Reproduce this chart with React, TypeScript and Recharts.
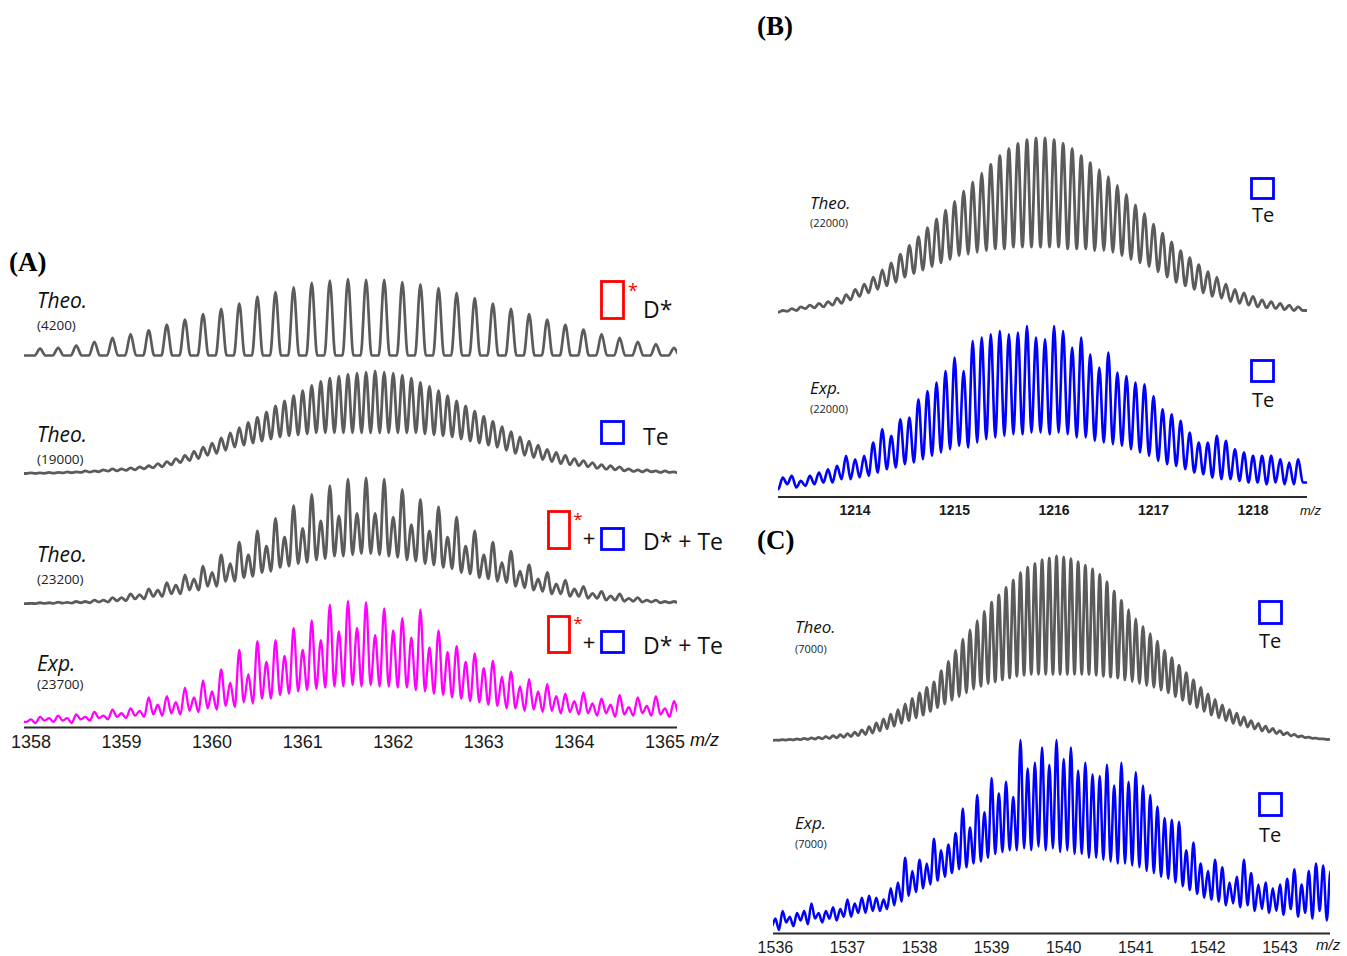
import React from 'react';
import { LineChart, Line, XAxis, YAxis } from 'recharts';

// ---------------- Panel A (m/z 1358 – 1365) ----------------
const aTicks = [1358, 1359, 1360, 1361, 1362, 1363, 1364, 1365];
const aDomain: [number, number] = [1357.923, 1365.133];

// A1: Theo. (4200) D*, isotope spacing 0.2
const a1Start = 1358.1;
const a1Step = 0.2;
const a1Peaks = [9, 10, 13, 18, 23, 28, 33, 40, 47, 54, 61, 68, 77, 83, 89, 95, 98, 100, 99, 99, 96, 93, 88, 82, 75, 68, 61, 54, 47, 40, 34, 28, 23, 18, 15, 10];
const a1Valleys = [0, 0, 0, 0, 0, 0, 0, 0, 0, 0, 0, 0, 0, 0, 0, 0, 0, 0, 0, 0, 0, 0, 0, 0, 0, 0, 0, 0, 0, 0, 0, 0, 0, 0, 0, 0, 0];

// A2: Theo. (19000) Te, spacing 0.1
const a2Start = 1358.0;
const a2Step = 0.1;
const a2Peaks = [1, 1, 1.5, 1.5, 2, 2, 3, 3, 4, 5, 5, 6, 7, 8, 10, 12, 15, 18, 22, 26, 30, 35, 40, 45, 50, 55, 60, 66, 71, 76, 81, 86, 90, 93, 95, 97, 98, 99, 100, 99, 98, 96, 93, 89, 85, 81, 76, 71, 66, 61, 56, 51, 46, 41, 36, 32, 28, 24, 21, 18, 15, 13, 11, 9, 8, 7, 5, 4, 4, 3, 3, 2];
const a2Valleys = [0.5, 0.5, 0.7, 0.8, 1, 1.2, 1.5, 1.8, 2.2, 2.7, 3, 3.5, 4, 5, 6, 7, 9, 11, 13, 15, 18, 20, 23, 26, 28, 30, 32, 34, 36, 37, 38, 39, 40, 40, 40, 40, 40, 40, 40, 40, 40, 40, 40, 40, 39, 38, 37, 36, 34, 32, 30, 28, 26, 23, 20, 18, 16, 14, 12, 10, 9, 8, 7, 5.5, 4.5, 4, 3, 2.5, 2, 2, 1.5, 1.5, 1];

// A3: Theo. (23200) D* + Te, spacing 0.1
const a3Start = 1358.0;
const a3Step = 0.1;
const a3Peaks = [0.5, 1, 1, 1.5, 1.3, 2, 2, 3, 3, 5, 5, 8, 7.5, 12, 11, 17, 15, 23, 20, 30, 25, 39, 32, 49, 39, 58, 46, 68, 53, 78, 60, 87, 66, 94, 70, 99, 72, 100, 72, 99, 69, 91, 63, 83, 58, 77, 53, 69, 46, 58, 39, 49, 33, 42, 26, 31, 20, 25, 16, 19, 12, 14, 8.5, 10, 6.5, 8, 4.5, 5, 3, 3, 2, 2];
const a3Valleys = [0.3, 0.3, 0.5, 0.5, 0.7, 0.7, 1, 1, 1.5, 1.6, 2.5, 2.7, 4, 4, 6, 6, 8, 8, 11, 11, 14, 14, 18, 18, 21, 22, 25, 26, 29, 30, 32, 33, 35, 36, 38, 38, 39, 40, 40, 39, 38, 37, 35, 34, 32, 31, 29, 28, 25, 24, 21, 20, 18, 17, 14, 13, 11, 10, 8, 8, 6, 6, 4.5, 4.5, 3, 3, 2.2, 2.2, 1.5, 1.5, 1, 1, 1];

// A4: Exp. (23700), spacing 0.1
const a4Start = 1358.0;
const a4Step = 0.1;
const a4Peaks = [3, 5, 4, 6, 4, 7, 5, 9, 6, 11, 8, 12, 10, 21, 15, 22, 17, 29, 21, 35, 26, 44, 33, 60, 40, 67, 50, 68, 55, 78, 60, 84, 68, 97, 75, 100, 78, 99, 72, 94, 76, 86, 70, 93, 62, 76, 58, 63, 50, 57, 45, 51, 38, 42, 30, 36, 26, 32, 22, 24, 18, 25, 16, 20, 15, 23, 13, 21, 14, 22, 12, 18];
const a4Valleys = [1, 0, 2, 1, 2, 0, 3, 2, 4, 3, 5, 4, 6, 5, 7, 6, 8, 7, 10, 9, 12, 11, 14, 13, 17, 16, 20, 20, 23, 24, 26, 27, 28, 29, 30, 30, 31, 30, 31, 30, 30, 29, 29, 27, 26, 24, 23, 21, 20, 18, 17, 15, 14, 12, 12, 10, 11, 9, 10, 8, 9, 7, 8, 6, 8, 5, 7, 6, 8, 6, 7, 5, 8];

// ---------------- Panel B (m/z 1213.2 – 1218.5) ----------------
const bTicks = [1214, 1215, 1216, 1217, 1218];
const bDomain: [number, number] = [1213.226, 1218.543];

const b1Start = 1213.274;
const b1Step = 0.0909;
const b1Peaks = [2, 3, 4, 5, 6, 7, 9, 11, 14, 17, 21, 25, 29, 34, 39, 44, 49, 54, 59, 64, 70, 75, 80, 85, 90, 94, 97, 99, 100, 100, 99, 97, 94, 90, 86, 82, 78, 73, 68, 62, 57, 51, 46, 41, 36, 32, 28, 24, 21, 17, 14, 12, 10, 8, 7, 6, 5, 4];
const b1Valleys = [1, 1.5, 2, 3, 3.5, 4, 5, 6, 8, 10, 12, 14, 16, 18, 21, 23, 25, 27, 29, 31, 33, 34, 35, 36, 37, 37, 38, 38, 38, 38, 38, 38, 37, 37, 37, 36, 36, 35, 33, 31, 29, 27, 24, 21, 18, 16, 14, 12, 10, 9, 7, 6, 5, 4, 3.5, 3, 2.5, 2, 2];

const b2Start = 1213.183;
const b2Step = 0.0909;
const b2Peaks = [4, 9, 10, 7, 10, 12, 14, 16, 22, 20, 22, 30, 38, 34, 44, 45, 56, 61, 66, 73, 81, 73, 91, 93, 95, 97, 95, 96, 100, 93, 92, 100, 97, 87, 93, 83, 75, 84, 72, 70, 66, 65, 58, 50, 47, 43, 36, 30, 30, 34, 31, 26, 24, 22, 22, 22, 20, 18, 20];
const b2Valleys = [0, 2, 5, 3, 4, 5, 6, 6, 8, 8, 9, 10, 12, 14, 15, 17, 18, 20, 22, 24, 26, 28, 27, 30, 32, 33, 34, 35, 35, 36, 36, 35, 36, 35, 33, 33, 31, 30, 29, 28, 26, 24, 22, 19, 17, 16, 14, 12, 11, 9, 8, 8, 7, 6, 6, 5, 6, 5, 5, 6];

// ---------------- Panel C (m/z 1536 – 1543.7) ----------------
const cTicks = [1536, 1537, 1538, 1539, 1540, 1541, 1542, 1543];
const cDomain: [number, number] = [1535.967, 1543.694];

const c1Start = 1536.0;
const c1Step = 0.1;
const c1Peaks = [0.5, 0.7, 0.9, 1.1, 1.4, 1.7, 2, 2.4, 2.9, 3.4, 4, 4.8, 6, 7.7, 9.8, 12, 14.5, 17, 20, 23, 26, 29, 32, 38, 43, 49, 55, 60, 65, 70, 75, 79, 83, 87, 91, 94, 96, 98, 99, 100, 99.5, 98.5, 97, 95, 93, 90, 86, 81, 76, 71, 66, 62, 58, 54, 49, 45, 41, 37, 33, 29, 25.5, 22.5, 19.5, 17, 15, 13, 11, 9.5, 8, 6.8, 5.6, 4.5, 3.6, 2.8, 2.1, 1.6, 1.2, 0.9];
const c1Valleys = [0.3, 0.4, 0.5, 0.6, 0.7, 0.9, 1, 1.2, 1.4, 1.7, 2, 2.4, 2.9, 3.5, 4.3, 5.4, 6.6, 8, 9.5, 11, 12.5, 14, 16, 18, 20, 22, 24, 26, 28, 29.5, 31, 32, 33, 34, 35, 35.5, 36, 36, 36, 36, 36, 36, 36, 36, 36, 35.5, 35, 34.5, 34, 33, 32, 31, 30, 29, 27.5, 26, 24, 22, 20, 18, 16, 14, 12.5, 11, 9.5, 8.5, 7.5, 6.5, 5.5, 4.8, 4, 3.4, 2.8, 2.2, 1.8, 1.4, 1.1, 0.8, 0.6];

const c2Start = 1536.0;
const c2Step = 0.1;
const c2Peaks = [6, 10, 7, 9, 10, 14, 9, 10, 12, 11, 16, 14, 17, 18, 17, 16, 22, 25, 38, 31, 37, 35, 48, 42, 45, 51, 64, 54, 71, 62, 80, 72, 78, 70, 100, 85, 88, 96, 87, 100, 90, 96, 84, 88, 82, 81, 87, 76, 88, 78, 83, 76, 71, 65, 59, 58, 57, 42, 46, 35, 31, 37, 33, 25, 28, 37, 30, 24, 25, 22, 24, 27, 32, 24, 31, 35, 34, 31];
const c2Valleys = [2, 0, 4, 2, 5, 3, 6, 4, 6, 5, 7, 7, 9, 9, 10, 10, 11, 13, 15, 18, 20, 22, 24, 26, 28, 30, 32, 33, 35, 36, 38, 40, 41, 42, 42, 43, 42, 44, 42, 43, 41, 42, 40, 40, 38, 38, 37, 36, 35, 35, 34, 33, 31, 30, 28, 27, 25, 23, 21, 19, 17, 16, 15, 13, 14, 12, 13, 10, 11, 9, 10, 8, 11, 7, 9, 6, 10, 5, 12];

// ---------------- helpers ----------------
type Pt = { x: number; y: number };

function buildPoints(start: number, step: number, peaks: number[], valleys: number[], shoulder = 0): Pt[] {
  const pts: Pt[] = [{ x: start - step, y: valleys[0] }];
  peaks.forEach((h, i) => {
    const c = start + i * step;
    pts.push({ x: c - step / 2, y: valleys[i] });
    if (shoulder) pts.push({ x: c - shoulder, y: valleys[i] });
    pts.push({ x: c, y: h });
    if (shoulder) pts.push({ x: c + shoulder, y: valleys[i + 1] });
  });
  const n = peaks.length;
  pts.push({ x: start + (n - 0.5) * step, y: valleys[n] });
  pts.push({ x: start + n * step, y: valleys[n] });
  return pts;
}

type Box = { x0: number; x1: number; y100: number; y0: number; axisY?: number };

const SIDE = 30;
const PAD = 4;
const GRAY = '#5b5b5b';
const BLUE = '#0000ff';
const MAGENTA = '#ff00ff';

function Trace(props: {
  pts: Pt[];
  domain: [number, number];
  box: Box;
  color: string;
  sw: number;
  ticks?: number[];
  tickStyle?: any;
}) {
  const { pts, domain, box, color, sw, ticks, tickStyle } = props;
  const k = (box.y0 - box.y100) / 100;
  const top = box.y100 - PAD;
  const bottom = box.axisY ?? box.y0 + PAD;
  const hi = 100 + PAD / k;
  const lo = -(bottom - box.y0) / k;
  const axisH = ticks ? 34 : 0;
  const plotH = bottom - top;
  return (
    <div style={{ position: 'absolute', left: box.x0 - SIDE, top }}>
      <LineChart
        width={box.x1 - box.x0 + 2 * SIDE}
        height={plotH + axisH}
        data={pts}
        margin={{ top: 0, right: SIDE, bottom: 0, left: SIDE }}
      >
        <XAxis
          dataKey="x"
          type="number"
          domain={domain}
          allowDataOverflow
          hide={!ticks}
          ticks={ticks}
          interval={0}
          tickLine={false}
          axisLine={{ stroke: '#2a2a2a', strokeWidth: 2 }}
          height={axisH}
          tick={tickStyle}
        />
        <YAxis type="number" domain={[lo, hi]} allowDataOverflow hide />
        <Line type="monotone" dataKey="y" stroke={color} strokeWidth={sw} dot={false} isAnimationActive={false} />
      </LineChart>
    </div>
  );
}

const SANS = "'Open Sans', 'Noto Sans', sans-serif";
const AXF = "'Liberation Sans', Arial, sans-serif";
const SERIF = "'Liberation Serif', 'Times New Roman', serif";

function Label(p: { x: number; y: number; size: number; text: string; italic?: boolean; bold?: boolean; family?: string; anchor?: 'start' | 'middle' | 'end'; fill?: string }) {
  return (
    <text
      x={p.x}
      y={p.y}
      fontSize={p.size}
      fontStyle={p.italic ? 'italic' : 'normal'}
      fontWeight={p.bold ? 'bold' : 'normal'}
      fontFamily={p.family ?? SANS}
      textAnchor={p.anchor ?? 'start'}
      fill={p.fill ?? '#111'}
    >
      {p.text}
    </text>
  );
}

function Box2(p: { x: number; y: number; w: number; h: number; color: string }) {
  return <rect x={p.x} y={p.y} width={p.w} height={p.h} fill="none" stroke={p.color} strokeWidth={2.8} />;
}

export default function App() {
  const a1 = buildPoints(a1Start, a1Step, a1Peaks, a1Valleys, 0.06);
  const a2 = buildPoints(a2Start, a2Step, a2Peaks, a2Valleys);
  const a3 = buildPoints(a3Start, a3Step, a3Peaks, a3Valleys);
  const a4 = buildPoints(a4Start, a4Step, a4Peaks, a4Valleys);
  const b1 = buildPoints(b1Start, b1Step, b1Peaks, b1Valleys);
  const b2 = buildPoints(b2Start, b2Step, b2Peaks, b2Valleys);
  const c1 = buildPoints(c1Start, c1Step, c1Peaks, c1Valleys);
  const c2 = buildPoints(c2Start, c2Step, c2Peaks, c2Valleys);

  return (
    <div style={{ position: 'absolute', left: 0, top: 0, width: 1347, height: 956, background: '#fff', overflow: 'hidden' }}>
      <Trace pts={a1} domain={aDomain} box={{ x0: 24, x1: 677, y100: 279, y0: 355.5 }} color={GRAY} sw={2.7} />
      <Trace pts={a2} domain={aDomain} box={{ x0: 24, x1: 677, y100: 371, y0: 474 }} color={GRAY} sw={2.8} />
      <Trace pts={a3} domain={aDomain} box={{ x0: 24, x1: 677, y100: 478, y0: 604 }} color={GRAY} sw={2.8} />
      <Trace
        pts={a4}
        domain={aDomain}
        box={{ x0: 24, x1: 677, y100: 600.5, y0: 722.5, axisY: 727 }}
        color={MAGENTA}
        sw={2.3}
        ticks={aTicks}
        tickStyle={{ fontSize: 18, fill: '#1a1a1a', fontFamily: AXF }}
      />
      <Trace pts={b1} domain={bDomain} box={{ x0: 778, x1: 1307, y100: 138, y0: 314 }} color={GRAY} sw={2.8} />
      <Trace
        pts={b2}
        domain={bDomain}
        box={{ x0: 778, x1: 1307, y100: 326, y0: 492.5, axisY: 497 }}
        color={BLUE}
        sw={2.6}
        ticks={bTicks}
        tickStyle={{ fontSize: 14, fill: '#1a1a1a', fontFamily: AXF, fontWeight: 'bold' }}
      />
      <Trace pts={c1} domain={cDomain} box={{ x0: 773, x1: 1330, y100: 556, y0: 741 }} color={GRAY} sw={2.8} />
      <Trace
        pts={c2}
        domain={cDomain}
        box={{ x0: 773, x1: 1330, y100: 739.5, y0: 929.5, axisY: 933 }}
        color={BLUE}
        sw={2.5}
        ticks={cTicks}
        tickStyle={{ fontSize: 16, fill: '#1a1a1a', fontFamily: AXF }}
      />

      <svg width={1347} height={956} style={{ position: 'absolute', left: 0, top: 0, pointerEvents: 'none' }}>
        {/* panel labels */}
        <Label x={9} y={271} size={27} text="(A)" bold family={SERIF} fill="#000" />
        <Label x={757} y={35} size={27} text="(B)" bold family={SERIF} fill="#000" />
        <Label x={757} y={549} size={27} text="(C)" bold family={SERIF} fill="#000" />

        {/* Panel A trace labels */}
        <Label x={37} y={308} size={21} text="Theo." italic />
        <Label x={37} y={330} size={13.5} text="(4200)" fill="#222" />
        <Label x={37} y={442} size={21} text="Theo." italic />
        <Label x={37} y={464} size={13.5} text="(19000)" fill="#222" />
        <Label x={37} y={562} size={21} text="Theo." italic />
        <Label x={37} y={584} size={13.5} text="(23200)" fill="#222" />
        <Label x={37} y={671} size={21} text="Exp." italic />
        <Label x={37} y={689} size={13.5} text="(23700)" fill="#222" />
        <Label x={690} y={746} size={18} text="m/z" italic family={AXF} />

        {/* Panel A legend */}
        <Box2 x={601.5} y={281.5} w={22} h={37} color="#ff0000" />
        <Label x={633} y={297} size={18} text="*" anchor="middle" fill="#ff0000" />
        <Label x={643} y={318} size={23} text="D*" />

        <Box2 x={601.5} y={421.5} w={22} h={22} color={BLUE} />
        <Label x={643} y={445} size={23} text="Te" />

        <Box2 x={548.5} y={511.5} w={21} h={37} color="#ff0000" />
        <Label x={578} y={525} size={17} text="*" anchor="middle" fill="#ff0000" />
        <Label x={589} y={546} size={22} text="+" anchor="middle" />
        <Box2 x={601.5} y={528.5} w={22} h={21} color={BLUE} />
        <Label x={643} y={550} size={23} text="D* + Te" />

        <Box2 x={548.5} y={616.5} w={21} h={36} color="#ff0000" />
        <Label x={578} y={629} size={17} text="*" anchor="middle" fill="#ff0000" />
        <Label x={589} y={650} size={22} text="+" anchor="middle" />
        <Box2 x={601.5} y={631.5} w={22} h={21} color={BLUE} />
        <Label x={643} y={654} size={23} text="D* + Te" />

        {/* Panel B labels */}
        <Label x={810} y={209} size={17} text="Theo." italic />
        <Label x={810} y={227} size={11} text="(22000)" fill="#222" />
        <Label x={810} y={394} size={17} text="Exp." italic />
        <Label x={810} y={413} size={11} text="(22000)" fill="#222" />
        <Box2 x={1251.5} y={178.5} w={22} h={20} color={BLUE} />
        <Label x={1263} y={222} size={20} text="Te" anchor="middle" />
        <Box2 x={1251.5} y={360.5} w={22} h={21} color={BLUE} />
        <Label x={1263} y={407} size={20} text="Te" anchor="middle" />
        <Label x={1300} y={515} size={13} text="m/z" italic family={AXF} />

        {/* Panel C labels */}
        <Label x={795} y={633} size={17} text="Theo." italic />
        <Label x={795} y={653} size={11} text="(7000)" fill="#222" />
        <Label x={795} y={829} size={17} text="Exp." italic />
        <Label x={795} y={848} size={11} text="(7000)" fill="#222" />
        <Box2 x={1259.5} y={601.5} w={22} h={22} color={BLUE} />
        <Label x={1270} y={648} size={20} text="Te" anchor="middle" />
        <Box2 x={1259.5} y={793.5} w={22} h={22} color={BLUE} />
        <Label x={1270} y={842} size={20} text="Te" anchor="middle" />
        <Label x={1316} y={950} size={15} text="m/z" italic family={AXF} />
      </svg>
    </div>
  );
}
